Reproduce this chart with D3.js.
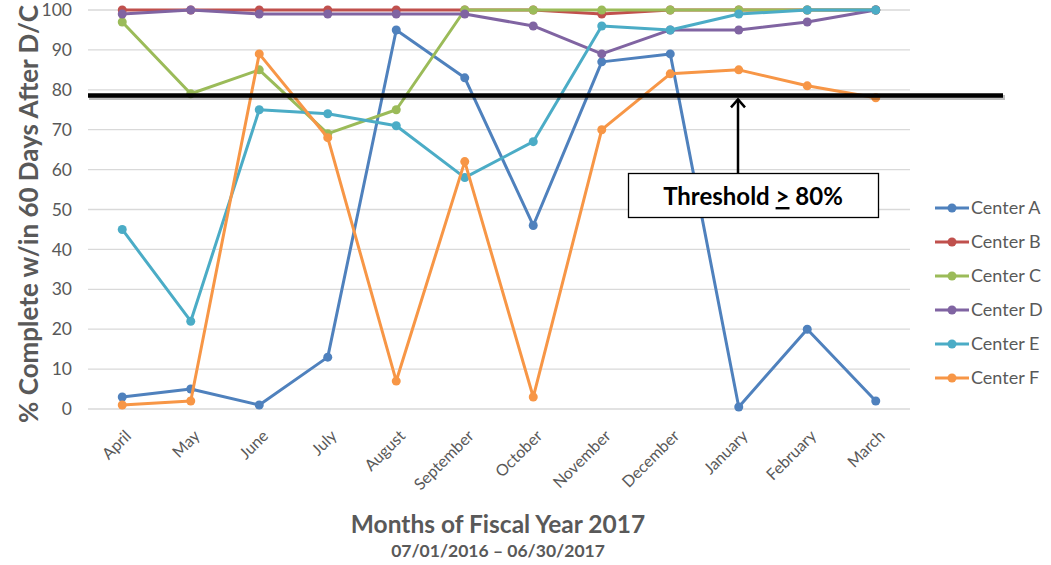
<!DOCTYPE html>
<html><head><meta charset="utf-8">
<script src="https://cdn.jsdelivr.net/npm/d3@7"></script>
<style>body{margin:0;background:#fff}svg{display:block}text{font-family:Lato,"Open Sans",sans-serif}</style>
</head><body>
<svg id="c" width="1051" height="565"></svg>
<script>
const months = ["April","May","June","July","August","September","October","November","December","January","February","March"];
const seriesNames = ["Center A","Center B","Center C","Center D","Center E","Center F"];
const centerA = [3,5,1,13,95,83,46,87,89,0.5,20,2];
const centerB = [100,100,100,100,100,100,100,99,100,100,100,100];
const centerC = [97,79,85,69,75,100,100,100,100,100,100,100];
const centerD = [99,100,99,99,99,99,96,89,95,95,97,100];
const centerE = [45,22,75,74,71,58,67,96,95,99,100,100];
const centerF = [1,2,89,68,7,62,3,70,84,85,81,78];
const colors = ["#4F81BD","#C0504D","#9BBB59","#8064A2","#4BACC6","#F79646"];
const yTicks = [0,10,20,30,40,50,60,70,80,90,100];
const thresholdValue = 78.6;
const thresholdLabel = "80%";

const allSeries = [centerA,centerB,centerC,centerD,centerE,centerF];
const svg = d3.select("#c");
const L=88, R=910, T=10, B=409;
const x = d3.scaleBand().domain(months).range([L,R]);
const y = d3.scaleLinear().domain([0,100]).range([B,T]);
const gray="#595959";

// gridlines
svg.append("g").selectAll("line").data(yTicks).join("line")
  .attr("x1",L).attr("x2",R).attr("y1",d=>y(d)).attr("y2",d=>y(d))
  .attr("stroke","#D9D9D9").attr("stroke-width",1.3);

// y tick labels
svg.append("g").selectAll("text").data(yTicks).join("text")
  .attr("x",72).attr("y",d=>y(d)).attr("dy","0.35em").attr("text-anchor","end")
  .attr("font-size",17.5).attr("fill",gray).text(d=>d);

// x tick labels
svg.append("g").selectAll("text").data(months).join("text")
  .attr("transform",d=>`translate(${x(d)+x.bandwidth()/2+10},${B+28}) rotate(-45)`)
  .attr("text-anchor","end").attr("font-size",16).attr("fill",gray).text(d=>d);

// lines
const line = d3.line().x((d,i)=>x(months[i])+x.bandwidth()/2).y(d=>y(d));
allSeries.forEach((s,k)=>{
  const g=svg.append("g");
  g.append("path").attr("d",line(s)).attr("fill","none").attr("stroke",colors[k]).attr("stroke-width",3).attr("stroke-linejoin","round");
  g.selectAll("circle").data(s).join("circle")
    .attr("cx",(d,i)=>x(months[i])+x.bandwidth()/2).attr("cy",d=>y(d)).attr("r",4.5).attr("fill",colors[k]);
});

// threshold line with shadow
const ty=y(thresholdValue);
svg.append("line").attr("x1",L+1).attr("x2",1005).attr("y1",ty+2).attr("y2",ty+2).attr("stroke","#000").attr("stroke-opacity",0.25).attr("stroke-width",5);
svg.append("line").attr("x1",L).attr("x2",1003).attr("y1",ty).attr("y2",ty).attr("stroke","#000").attr("stroke-width",4.5);

// arrow
const ax=738;
svg.append("line").attr("x1",ax).attr("x2",ax).attr("y1",173).attr("y2",ty+4).attr("stroke","#000").attr("stroke-width",2.5);
svg.append("path").attr("d",`M${ax-7},${ty+12} L${ax},${ty+4} L${ax+7},${ty+12}`).attr("fill","none").attr("stroke","#000").attr("stroke-width",2.5);

// box
svg.append("rect").attr("x",628.5).attr("y",173.5).attr("width",250).attr("height",44).attr("fill","#fff").attr("stroke","#000").attr("stroke-width",1.3);
const bt=svg.append("text").attr("x",753).attr("y",205).attr("text-anchor","middle").attr("font-size",24).attr("font-weight","bold").attr("fill","#000");
bt.append("tspan").text("Threshold ");
bt.append("tspan").attr("text-decoration","underline").text(">");
bt.append("tspan").text(" "+thresholdLabel);

// legend
seriesNames.forEach((n,k)=>{
  const ly=208+k*34;
  svg.append("line").attr("x1",935).attr("x2",969).attr("y1",ly).attr("y2",ly).attr("stroke",colors[k]).attr("stroke-width",3);
  svg.append("circle").attr("cx",952).attr("cy",ly).attr("r",4.5).attr("fill",colors[k]);
  svg.append("text").attr("x",971).attr("y",ly).attr("dy","0.35em").attr("font-size",18).attr("fill",gray).text(n);
});

// axis titles
svg.append("text").attr("transform","translate(38,214) rotate(-90)").attr("text-anchor","middle")
  .attr("font-size",26).attr("font-weight","bold").attr("fill",gray).text("% Complete w/in 60 Days After D/C");
svg.append("text").attr("x",498).attr("y",533).attr("text-anchor","middle")
  .attr("font-size",24.5).attr("font-weight","bold").attr("fill",gray).text("Months of Fiscal Year 2017");
svg.append("text").attr("x",498).attr("y",557).attr("text-anchor","middle")
  .attr("font-size",17.5).attr("font-weight","bold").attr("fill",gray).text("07/01/2016 – 06/30/2017");
</script>
</body></html>
